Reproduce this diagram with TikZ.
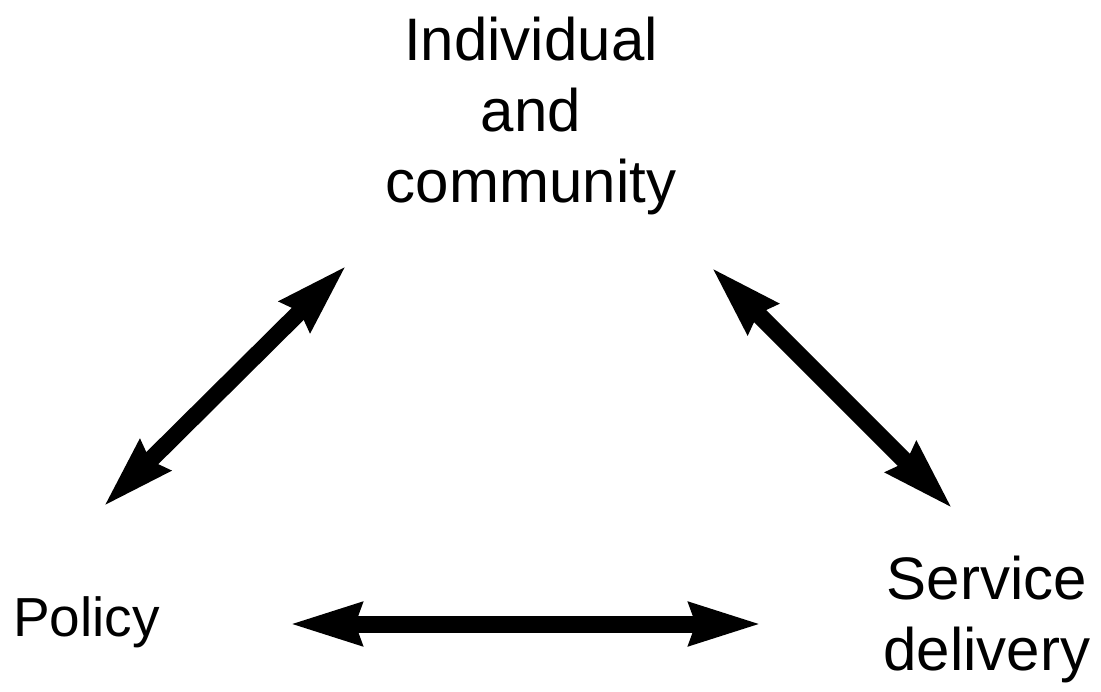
\documentclass[tikz,border=0pt]{standalone}
\usepackage{fontspec}
\setmainfont{Liberation Sans}
\usetikzlibrary{arrows.meta}
\begin{document}
\begin{tikzpicture}[x=1pt,y=-1pt,
  lbl/.style={font=\fontsize{60}{71}\selectfont, align=center, inner sep=0pt},
  link/.style={line width=17pt, {Stealth[length=71pt,width=40pt,inset=5pt]}-{Stealth[length=71pt,width=40pt,inset=5pt]}}]
\useasboundingbox (0,0) rectangle (1101,692);
\node[lbl, anchor=base] (ind) at (531,203) {Individual\\and\\community};
\node[lbl, font=\fontsize{55}{66}\selectfont, anchor=base west] (pol) at (13,636) {Policy};
\node[lbl, anchor=base] (ser) at (987,670) {Service\\delivery};
\coordinate (a1) at (103,507);
\coordinate (a2) at (347,265);
\coordinate (b1) at (711,267);
\coordinate (b2) at (953,509);
\coordinate (c1) at (289,624);
\coordinate (c2) at (762,624);
\draw[link] (a1) -- (a2);
\draw[link] (b1) -- (b2);
\draw[link] (c1) -- (c2);
\end{tikzpicture}
\end{document}
